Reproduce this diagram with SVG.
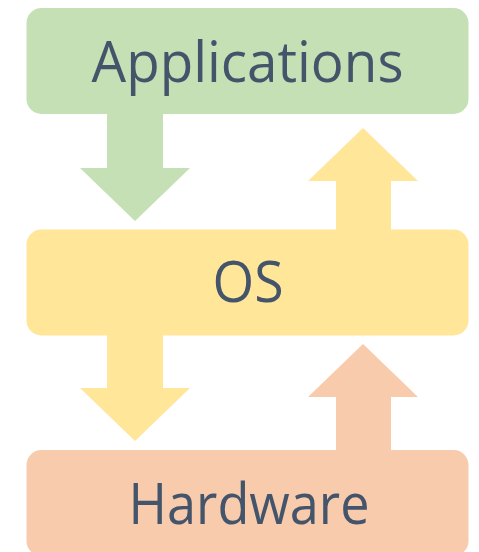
<svg xmlns="http://www.w3.org/2000/svg" width="479" height="552" viewBox="0 0 479 552">
  <style>
    .label { font-family: "Open Sans", "Noto Sans", "Liberation Sans", sans-serif; font-size: 57px; fill: #44546a; text-anchor: middle; }
    .green { fill: #c5e0b4; }
    .yellow { fill: #ffe699; }
    .peach { fill: #f8cbad; }
  </style>
  <rect width="479" height="552" fill="#ffffff"/>
  <g id="connectors">
    <polygon id="apps-to-os" class="green" points="107,113 163,113 163,168 190,168 135,221 80,168 107,168"/>
    <polygon id="os-to-apps" class="yellow" points="336,231 391,231 391,181 418,181 363,128 308,181 336,181"/>
    <polygon id="os-to-hw" class="yellow" points="107,334 163,334 163,388 190,388 135,441 80,388 107,388"/>
    <polygon id="hw-to-os" class="peach" points="336,452 391,452 391,397 418,397 363,344 308,397 336,397"/>
  </g>
  <g id="applications">
    <rect class="green" x="26.5" y="8" width="442" height="106" rx="15"/>
    <text class="label" x="247.5" y="82" textLength="312" lengthAdjust="spacingAndGlyphs">Applications</text>
  </g>
  <g id="os">
    <rect class="yellow" x="26.5" y="229.5" width="442" height="106" rx="15"/>
    <text class="label" x="248" y="302" textLength="71" lengthAdjust="spacingAndGlyphs">OS</text>
  </g>
  <g id="hardware">
    <rect class="peach" x="26.5" y="450" width="442" height="106" rx="15"/>
    <text class="label" x="249" y="523.5" textLength="241" lengthAdjust="spacingAndGlyphs">Hardware</text>
  </g>
</svg>
